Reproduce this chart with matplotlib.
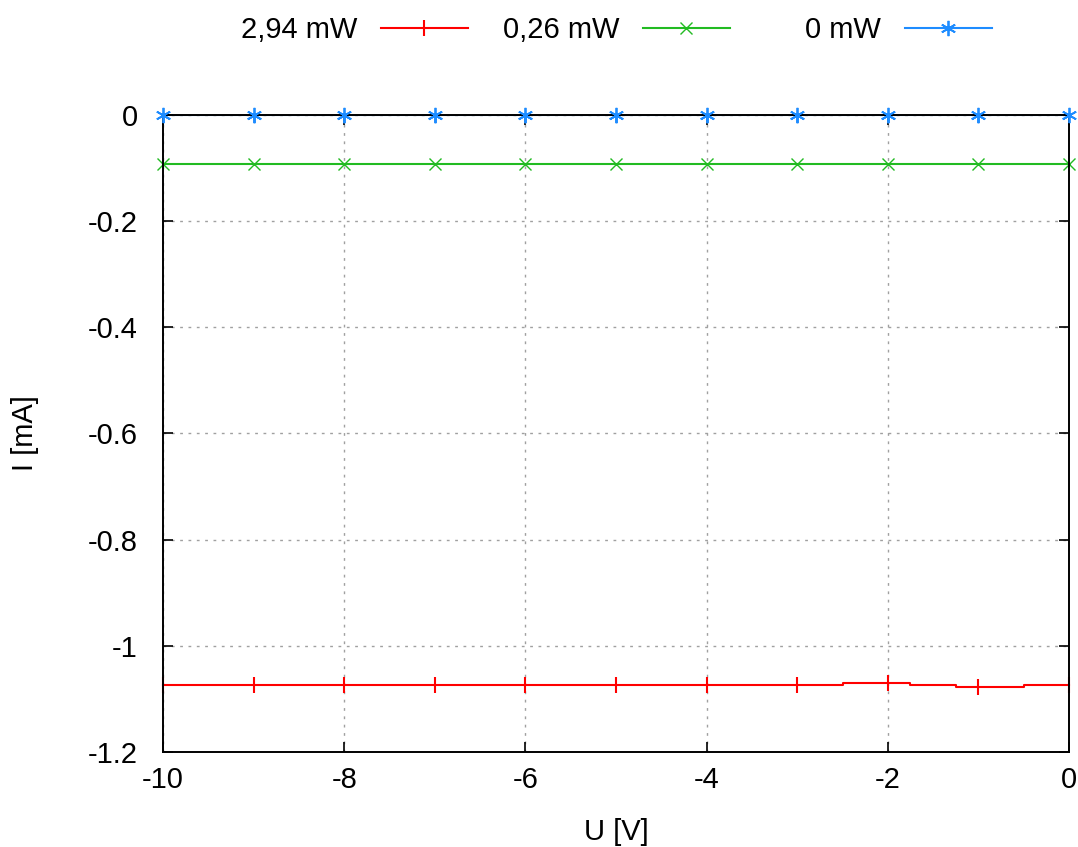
import matplotlib
matplotlib.use("Agg")
import matplotlib.pyplot as plt
import numpy as np

plt.rcParams['font.family'] = ['Liberation Sans', 'DejaVu Sans']

# measured data
u_red = [-10, -9, -8, -7, -6, -5, -4, -3, -2, -1.5, -1, 0]
i_red = [-1.074, -1.074, -1.074, -1.074, -1.074, -1.074, -1.074, -1.074, -1.0695, -1.074, -1.078, -1.074]
u_green = [-10, -9, -8, -7, -6, -5, -4, -3, -2, -1, 0]
i_green = [-0.0925] * 11
u_blue = [-10, -9, -8, -7, -6, -5, -4, -3, -2, -1, 0]
i_blue = [0.0] * 11

labels = ["2,94 mW", "0,26 mW", "0 mW"]
colors = ["#ff0000", "#22bb22", "#1e8cff"]
FS = 21

fig = plt.figure(figsize=(10.78, 8.47), dpi=100)
ax = fig.add_axes([0.1512, 0.1122, 0.8405, 0.752])

red_marks = [k for k, u in enumerate(u_red) if float(u).is_integer()]
l_red, = ax.plot(u_red, i_red, drawstyle='steps-mid', color=colors[0], lw=1.5,
                 marker='|', markersize=12, markeredgewidth=1.5, markevery=red_marks,
                 clip_on=False)
l_green, = ax.plot(u_green, i_green, color=colors[1], lw=1.5, marker='x', markersize=8,
                   clip_on=False)
l_blue, = ax.plot(u_blue, i_blue, color=colors[2], lw=1.5, marker=(6, 2, 0), markersize=11,
                  markeredgewidth=1.3, zorder=2)
# markers of the 0 mW curve sit on top of the frame
ax.plot(u_blue, i_blue, ls='none', color=colors[2], marker=(6, 2, 0), markersize=11,
        markeredgewidth=1.3, clip_on=False, zorder=5)

ax.set_xlim(-10, 0)
ax.set_ylim(-1.2, 0)
ax.set_xticks(np.arange(-10, 1, 2))
ax.set_yticks([-1.2, -1, -0.8, -0.6, -0.4, -0.2, 0])
ax.set_yticklabels(["-1.2", "-1", "-0.8", "-0.6", "-0.4", "-0.2", "0"])
ax.set_xticklabels(["-10", "-8", "-6", "-4", "-2", "0"])
ax.tick_params(direction='in', length=7, width=1.2, labelsize=FS, top=True, right=True)
ax.tick_params(axis='y', pad=18)
ax.tick_params(axis='x', pad=10)
ax.grid(True, linestyle=(0, (2, 4)), color='#a0a0a0', lw=1)
for s in ax.spines.values():
    s.set_linewidth(1.4)
    s.set_zorder(3)

ax.set_xlabel("U [V]", fontsize=FS)
ax.set_ylabel("I [mA]", fontsize=FS)
ax.xaxis.set_label_coords(0.5, -0.1256)
ax.xaxis.label.set_va('center')
ax.yaxis.set_label_coords(-0.1523, 0.5)
ax.yaxis.label.set_va('center')

# gnuplot-style key: text right-aligned before the sample line, one entry per column
key_right = [468 / 1078, 730 / 1078, 992 / 1078]
for h, lab, xr in zip([l_red, l_green, l_blue], labels, key_right):
    fig.legend([h], [lab], loc='center right', bbox_to_anchor=(xr, 1 - 30 / 847),
               frameon=False, markerfirst=False, fontsize=FS, handlelength=3.0,
               handletextpad=0.8, borderpad=0, borderaxespad=0)

fig.savefig("out.png", dpi=100)
